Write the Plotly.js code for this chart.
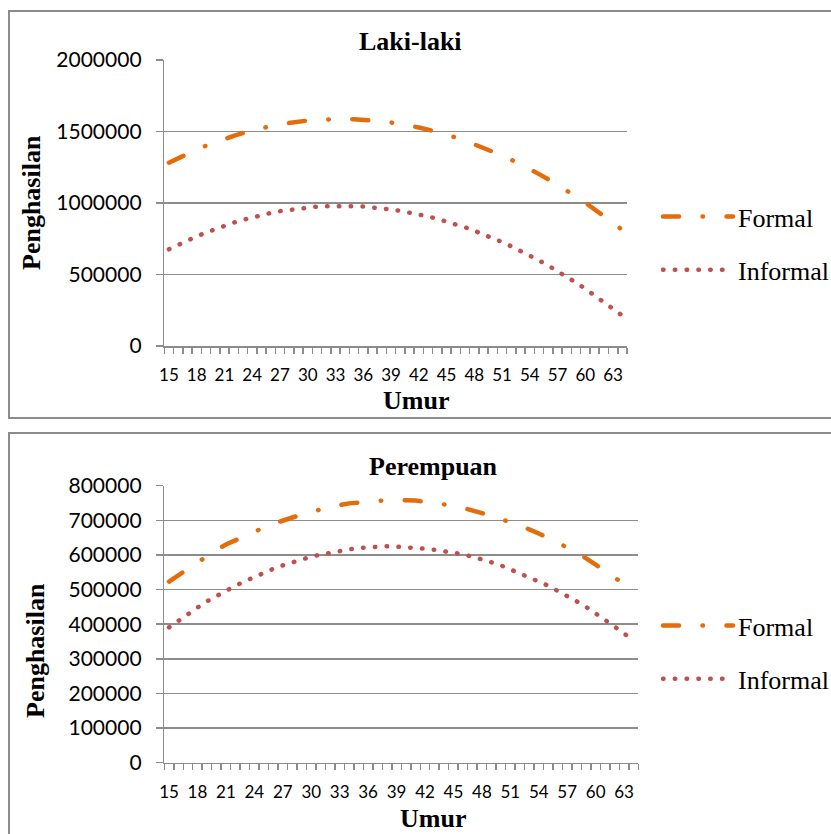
<!DOCTYPE html>
<html>
<head>
<meta charset="utf-8">
<script src="https://cdn.plot.ly/plotly-3.0.1.min.js"></script>
<style>
html,body{margin:0;padding:0;background:#fff;}
#chart{width:831px;height:834px;}
.js-line{stroke-linecap:round;}
</style>
</head>
<body>
<div id="chart"></div>
<script>
// ---- data ----
const ages = [15,16,17,18,19,20,21,22,23,24,25,26,27,28,29,30,31,32,33,34,35,36,37,38,39,40,41,42,43,44,45,46,47,48,49,50,51,52,53,54,55,56,57,58,59,60,61,62,63,64];
const ageTicks = [15,18,21,24,27,30,33,36,39,42,45,48,51,54,57,60,63];
const seriesNames = ["Formal", "Informal"];
const panelTitles = ["Laki-laki", "Perempuan"];
const xTitle = "Umur";
const yTitle = "Penghasilan";

const maleFormal = [1282000,1314000,1344000,1373000,1400000,1425000,1448000,1470000,1489000,1507000,
                    1523000,1538000,1550000,1561000,1570000,1577000,1582000,1586000,1588000,1588000,
                    1586000,1583000,1578000,1571000,1563000,1553000,1541000,1528000,1513000,1496000,
                    1478000,1458000,1436000,1412000,1387000,1361000,1332000,1302000,1271000,1237000,
                    1202000,1165000,1127000,1087000,1045000,1002000,957000,910000,861000,811000];
const maleInformal = [676000,708000,738000,767000,793000,818000,841000,863000,882000,900000,
                      916000,930000,943000,953000,962000,969000,975000,978000,980000,980000,
                      978000,975000,970000,963000,955000,945000,934000,920000,906000,889000,
                      871000,851000,830000,806000,782000,755000,727000,697000,666000,633000,
                      598000,562000,524000,484000,443000,400000,355000,309000,261000,212000];
const femaleFormal = [523000,542000,561000,580000,598000,615000,630000,643000,655000,667000,
                      679000,690000,700000,709000,717000,725000,732000,738000,744000,749000,
                      752000,755000,757000,758000,759000,759000,757000,754000,751000,747000,
                      742000,736000,729000,721000,713000,704000,695000,685000,674000,662000,
                      650000,636000,621000,606000,590000,572000,554000,536000,516000,496000];
const femaleInformal = [391000,411000,430000,448000,466000,482000,497000,511000,524000,537000,
                        549000,560000,570000,579000,588000,595000,601000,607000,612000,616000,
                        620000,622000,624000,625000,624000,623000,621000,618000,615000,611000,
                        607000,602000,595000,588000,579000,570000,559000,548000,536000,523000,
                        511000,497000,482000,466000,450000,432000,413000,393000,373000,353000];

// ---- styling ----
const W = 831, H = 834;
const px = v => v / W;
const py = v => 1 - v / H;
const ORANGE = "#E46C0A", RED = "#C0504D", GRID = "#8c8c8c";
const formalDash = "16px,23.5px,0.5px,23.5px";
const informalDash = "0.5px,11.3px";

const boundaries = [];
for (let b = ages[0] - 0.5; b <= ages[ages.length - 1] + 0.5; b += 1) boundaries.push(b);

function xAxis(domain, anchor) {
  return {
    domain: domain, anchor: anchor, range: [ages[0] - 0.5, ages[ages.length - 1] + 0.5],
    tickmode: "array", tickvals: ageTicks, ticktext: ageTicks.map(String),
    ticks: "", showgrid: false, zeroline: false,
    showline: true, linecolor: GRID, linewidth: 1.5,
    minor: {tickmode: "array", tickvals: boundaries, ticks: "outside", ticklen: 6, tickwidth: 1.5, tickcolor: GRID, showgrid: false},
    tickfont: {family: "Lato", size: 17, color: "#000"},
    ticklabelstandoff: 13,
    fixedrange: true, automargin: false
  };
}
function yAxis(domain, anchor, max, step) {
  return {
    domain: domain, anchor: anchor, range: [0, max], tickmode: "linear", tick0: 0, dtick: step,
    tickformat: "d", ticks: "outside", ticklen: 7, tickwidth: 1.5, tickcolor: GRID,
    showgrid: true, gridcolor: GRID, gridwidth: 1.5, zeroline: false,
    showline: true, linecolor: GRID, linewidth: 1.5,
    tickfont: {family: "Lato", size: 21, color: "#000"},
    ticklabelstandoff: 10,
    fixedrange: true, automargin: false
  };
}

const traces = [
  {x: ages, y: maleFormal, name: seriesNames[0], type: "scatter", mode: "lines", xaxis: "x", yaxis: "y",
   line: {color: ORANGE, width: 4.5, dash: formalDash}, legend: "legend", legendgroup: "a", hoverinfo: "skip"},
  {x: ages, y: maleInformal, name: seriesNames[1], type: "scatter", mode: "lines", xaxis: "x", yaxis: "y",
   line: {color: RED, width: 4.5, dash: informalDash}, legend: "legend", legendgroup: "b", hoverinfo: "skip"},
  {x: ages, y: femaleFormal, name: seriesNames[0], type: "scatter", mode: "lines", xaxis: "x2", yaxis: "y2",
   line: {color: ORANGE, width: 4.5, dash: formalDash}, legend: "legend2", legendgroup: "c", hoverinfo: "skip"},
  {x: ages, y: femaleInformal, name: seriesNames[1], type: "scatter", mode: "lines", xaxis: "x2", yaxis: "y2",
   line: {color: RED, width: 4.5, dash: informalDash}, legend: "legend2", legendgroup: "d", hoverinfo: "skip"}
];

const legendBase = {
  xanchor: "left", yanchor: "top", bgcolor: "rgba(0,0,0,0)", borderwidth: 0,
  font: {family: "Liberation Serif", size: 26, color: "#000"},
  itemwidth: 70, traceorder: "grouped", tracegroupgap: 16.5, itemclick: false, itemdoubleclick: false
};

const titleFont = {family: "Liberation Serif", size: 26, color: "#000", weight: "bold"};
function ann(text, x, y, angle) {
  return {text: text, x: px(x), y: py(y), xref: "paper", yref: "paper", showarrow: false,
          xanchor: "center", yanchor: "middle", textangle: angle || 0, font: titleFont};
}

const layout = {
  width: W, height: H, margin: {l: 0, r: 0, t: 0, b: 0, autoexpand: false},
  paper_bgcolor: "#fff", plot_bgcolor: "#fff", showlegend: true,
  xaxis: xAxis([px(164.3), px(627)], "y"),
  yaxis: yAxis([py(346), py(60)], "x", 2000000, 500000),
  xaxis2: xAxis([px(164.3), px(638.3)], "y2"),
  yaxis2: yAxis([py(762.7), py(485.7)], "x2", 800000, 100000),
  legend: Object.assign({x: px(658), y: py(193)}, legendBase),
  legend2: Object.assign({x: px(658), y: py(602)}, legendBase),
  shapes: [
    {type: "rect", xref: "paper", yref: "paper", x0: px(9), x1: px(845), y0: py(418), y1: py(11),
     line: {color: GRID, width: 2}, fillcolor: "rgba(0,0,0,0)", layer: "below"},
    {type: "rect", xref: "paper", yref: "paper", x0: px(9), x1: px(845), y0: py(850), y1: py(433),
     line: {color: GRID, width: 2}, fillcolor: "rgba(0,0,0,0)", layer: "below"}
  ],
  annotations: [
    ann(panelTitles[0], 410, 41),
    ann(panelTitles[1], 433, 466),
    ann(xTitle, 416, 400),
    ann(xTitle, 432.5, 818),
    ann(yTitle, 31.5, 202.5, -90),
    ann(yTitle, 35, 651, -90)
  ]
};

Plotly.newPlot("chart", traces, layout, {displayModeBar: false, staticPlot: true});
</script>
</body>
</html>
